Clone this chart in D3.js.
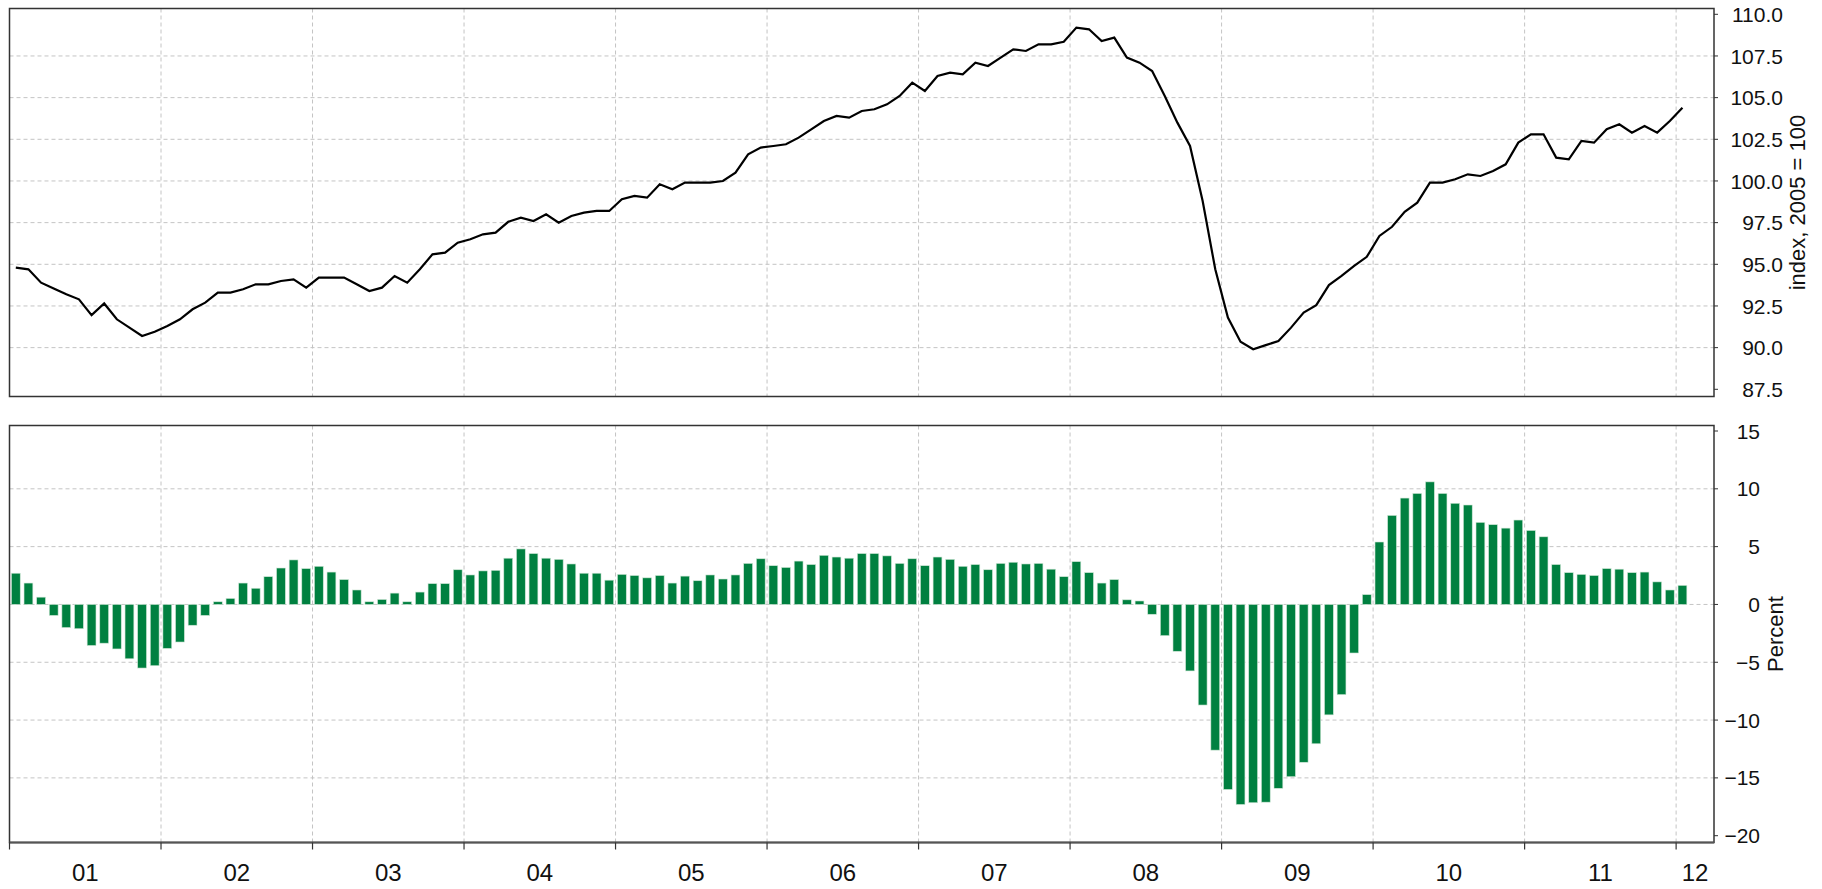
<!DOCTYPE html>
<html>
<head>
<meta charset="utf-8">
<script src="https://cdn.jsdelivr.net/npm/d3@7"></script>
<style>
  body { margin: 0; background: #fff; }
  svg { display: block; font-family: "Liberation Sans", Arial, sans-serif; }
  .grid { stroke: #c4c4c4; stroke-width: 1; stroke-dasharray: 4,3; }
</style>
</head>
<body>
<svg id="chart" width="1822" height="889"></svg>
<script>
// monthly data, Jan 2001 .. Jan 2012
const startYear = 2001;
const yearLabels = ["01", "02", "03", "04", "05", "06", "07", "08", "09", "10", "11", "12"];

// index, 2005 = 100
const indexValues = [
  94.8, 94.7, 93.9, 93.55, 93.2, 92.9, 91.95, 92.65, 91.7, 91.2, 90.7, 90.95,
  91.3, 91.7, 92.3, 92.7, 93.3, 93.3, 93.5, 93.8, 93.8, 94.0, 94.1, 93.6,
  94.2, 94.2, 94.2, 93.8, 93.4, 93.6, 94.3, 93.9, 94.7, 95.6, 95.7, 96.3,
  96.5, 96.8, 96.9, 97.55, 97.8, 97.6, 98.0, 97.5, 97.9, 98.1, 98.2, 98.2,
  98.9, 99.1, 99.0, 99.8, 99.5, 99.9, 99.9, 99.9, 100.0, 100.5, 101.6, 102.0,
  102.1, 102.2, 102.6, 103.1, 103.6, 103.9, 103.8, 104.2, 104.3, 104.6, 105.1, 105.9,
  105.4, 106.3, 106.5, 106.4, 107.1, 106.9, 107.4, 107.9, 107.8, 108.2, 108.2, 108.35,
  109.2, 109.1, 108.4, 108.6, 107.4, 107.1, 106.6, 105.1, 103.5, 102.1, 98.8, 94.7,
  91.8, 90.35, 89.9, 90.15, 90.4, 91.2, 92.1, 92.55, 93.75, 94.3, 94.9, 95.45,
  96.7, 97.25, 98.15, 98.7, 99.9, 99.9, 100.1, 100.4, 100.3, 100.6, 101.0, 102.3,
  102.8, 102.8, 101.4, 101.3, 102.4, 102.3, 103.1, 103.4, 102.9, 103.3, 102.9, 103.6,
  104.4
];

// percent change
const pctValues = [
  2.7, 1.85, 0.63, -0.95, -2.0, -2.1, -3.55, -3.35, -3.85, -4.7, -5.5, -5.3,
  -3.8, -3.25, -1.8, -0.95, 0.23, 0.52, 1.85, 1.4, 2.4, 3.15, 3.85, 3.1,
  3.3, 2.8, 2.15, 1.25, 0.23, 0.43, 0.98, 0.23, 1.07, 1.8, 1.8, 3.0,
  2.55, 2.9, 2.95, 4.0, 4.8, 4.4, 4.0, 3.9, 3.5, 2.7, 2.7, 2.1,
  2.6, 2.5, 2.3, 2.5, 1.85, 2.45, 2.05, 2.55, 2.2, 2.55, 3.55, 3.95,
  3.35, 3.2, 3.75, 3.45, 4.25, 4.1, 4.0, 4.4, 4.4, 4.2, 3.55, 3.95,
  3.35, 4.1, 3.9, 3.3, 3.45, 3.0, 3.55, 3.65, 3.5, 3.55, 3.05, 2.4,
  3.7, 2.75, 1.85, 2.15, 0.4, 0.3, -0.85, -2.7, -4.05, -5.75, -8.7, -12.6,
  -16.0, -17.3, -17.15, -17.1, -15.9, -14.9, -13.65, -12.05, -9.55, -7.8, -4.2, 0.85,
  5.4, 7.7, 9.2, 9.6, 10.6, 9.6, 8.75, 8.6, 7.1, 6.9, 6.6, 7.3,
  6.4, 5.85, 3.45, 2.75, 2.6, 2.5, 3.1, 3.05, 2.75, 2.8, 1.95, 1.25,
  1.65
];

const indexTicks = [87.5, 90, 92.5, 95, 97.5, 100, 102.5, 105, 107.5, 110];
const pctTicks = [-20, -15, -10, -5, 0, 5, 10, 15];

const svg = d3.select("#chart");

const left = 9.5, right = 1714;
const nMonths = 135;   // axis runs to April 2012
const top1 = 8.5, bottom1 = 396.5;
const top2 = 425.5, bottom2 = 842.5;

// x in months since Jan 2001
const x = d3.scaleLinear().domain([0, nMonths]).range([left, right]);
const yTop = d3.scaleLinear().domain([87.5, 110]).range([389.3, 14.3]);
const yBot = d3.scaleLinear().domain([-20, 15]).range([835.7, 431]);

const yearStarts = d3.range(0, nMonths, 12);

function drawGrid(g, yScale, ticks, y0, y1) {
  g.selectAll(".hgrid")
    .data(ticks.slice(1, -1)).enter()
    .append("line")
    .attr("class", "grid")
    .attr("x1", left).attr("x2", right)
    .attr("y1", (d) => yScale(d)).attr("y2", (d) => yScale(d));

  g.selectAll(".vgrid")
    .data(yearStarts.slice(1)).enter()
    .append("line")
    .attr("class", "grid")
    .attr("x1", (d) => x(d)).attr("x2", (d) => x(d))
    .attr("y1", y0).attr("y2", y1);
}

function drawRightAxis(g, yScale, ticks, fmt, labelX) {
  g.selectAll(".ytick")
    .data(ticks).enter()
    .append("line")
    .attr("x1", right).attr("x2", right + 4)
    .attr("y1", (d) => yScale(d)).attr("y2", (d) => yScale(d))
    .attr("stroke", "#333").attr("stroke-width", 1);

  g.selectAll(".ylabel")
    .data(ticks).enter()
    .append("text")
    .attr("x", labelX)
    .attr("y", (d) => yScale(d))
    .attr("dy", "0.36em")
    .attr("text-anchor", "end")
    .attr("font-size", 21)
    .attr("fill", "#111")
    .text(fmt);
}

function frame(g, y0, y1) {
  g.append("rect")
    .attr("x", left).attr("y", y0)
    .attr("width", right - left).attr("height", y1 - y0)
    .attr("fill", "none")
    .attr("stroke", "#333")
    .attr("stroke-width", 1.5);
}

// ---- top panel: index line
const gTop = svg.append("g");
drawGrid(gTop, yTop, indexTicks, top1, bottom1);

const line = d3.line()
  .x((d, i) => x(i + 0.5))
  .y((d) => yTop(d));

gTop.append("path")
  .datum(indexValues)
  .attr("d", line)
  .attr("fill", "none")
  .attr("stroke", "#000")
  .attr("stroke-width", 2.2)
  .attr("stroke-linejoin", "miter");

frame(gTop, top1, bottom1);
drawRightAxis(gTop, yTop, indexTicks, d3.format(".1f"), 1783);

gTop.append("text")
  .attr("transform", "translate(1797," + ((top1 + bottom1) / 2) + ") rotate(-90)")
  .attr("text-anchor", "middle")
  .attr("dy", "0.35em")
  .attr("font-size", 22)
  .attr("fill", "#111")
  .text("index, 2005 = 100");

// ---- bottom panel: percent bars
const gBot = svg.append("g");
drawGrid(gBot, yBot, pctTicks, top2, bottom2);

const barW = 0.7 * (x(1) - x(0));
gBot.selectAll(".bar")
  .data(pctValues).enter()
  .append("rect")
  .attr("class", "bar")
  .attr("x", (d, i) => x(i + 0.5) - barW / 2)
  .attr("width", barW)
  .attr("y", (d) => yBot(Math.max(0, d)))
  .attr("height", (d) => Math.abs(yBot(d) - yBot(0)))
  .attr("fill", "#008040")
  .attr("stroke", "#cfe6d6")
  .attr("stroke-width", 0.6);

frame(gBot, top2, bottom2);
gBot.append("line")
  .attr("x1", left).attr("x2", right)
  .attr("y1", bottom2).attr("y2", bottom2)
  .attr("stroke", "#555").attr("stroke-width", 2);

drawRightAxis(gBot, yBot, pctTicks, d3.format("d"), 1760);

gBot.append("text")
  .attr("transform", "translate(1775," + ((top2 + bottom2) / 2) + ") rotate(-90)")
  .attr("text-anchor", "middle")
  .attr("dy", "0.35em")
  .attr("font-size", 22)
  .attr("fill", "#111")
  .text("Percent");

// x ticks and year labels
gBot.selectAll(".xtick")
  .data(yearStarts).enter()
  .append("line")
  .attr("x1", (d) => x(d)).attr("x2", (d) => x(d))
  .attr("y1", bottom2).attr("y2", bottom2 + 7)
  .attr("stroke", "#333").attr("stroke-width", 1.2);

gBot.selectAll(".xlabel")
  .data(yearLabels).enter()
  .append("text")
  .attr("x", (d, i) => x((yearStarts[i] + Math.min(yearStarts[i] + 12, nMonths)) / 2))
  .attr("y", 881)
  .attr("text-anchor", "middle")
  .attr("font-size", 24)
  .attr("fill", "#111")
  .text((d) => d);
</script>
</body>
</html>
